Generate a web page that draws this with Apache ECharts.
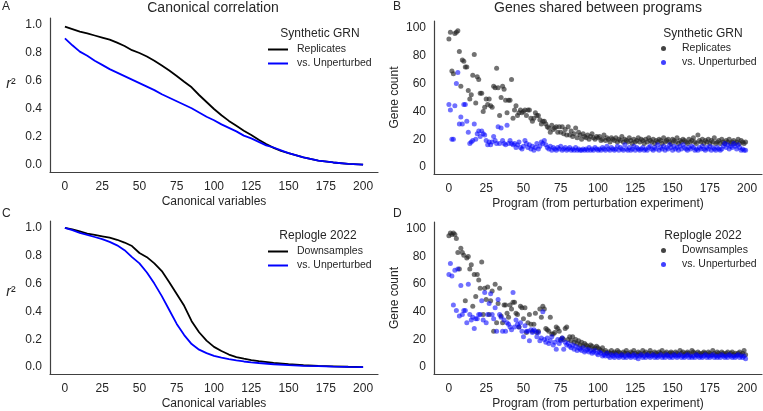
<!DOCTYPE html>
<html lang="en">
<head>
    <meta charset="UTF-8" />
    <title>Canonical correlation / Genes shared between programs</title>
    <script src="https://cdn.jsdelivr.net/npm/echarts@6/dist/echarts.min.js"></script>
    <style>
        html, body { margin: 0; padding: 0; background: #fff; }
        #main { width: 763px; height: 411px; }
    </style>
</head>
<body>
<div id="main"></div>
<script type="text/javascript">
    // canonical correlation curves (r^2 vs canonical variable index)
    var synthX = [0,5,10,15,20,25,30,35,40,45,50,55,60,65,70,75,80,85,90,95,100,105,110,115,120,125,130,135,140,145,150,160,170,180,190,200];
    var synthReplicates = [0.988,0.97,0.952,0.94,0.925,0.91,0.895,0.874,0.85,0.82,0.80,0.775,0.745,0.71,0.675,0.636,0.595,0.555,0.50,0.45,0.40,0.355,0.315,0.28,0.245,0.214,0.18,0.15,0.122,0.10,0.085,0.055,0.032,0.018,0.008,0.003];
    var synthUnperturbed = [0.905,0.855,0.81,0.78,0.745,0.715,0.685,0.66,0.635,0.61,0.585,0.56,0.535,0.505,0.48,0.455,0.43,0.405,0.375,0.345,0.32,0.29,0.265,0.24,0.21,0.19,0.165,0.14,0.125,0.105,0.085,0.055,0.032,0.018,0.008,0.003];

    var replX = [0,5,10,15,20,25,30,35,40,45,50,55,60,65,70,75,80,85,90,95,100,105,110,115,120,125,130,140,150,160,170,180,190,200];
    var replDownsamples = [1.0,0.99,0.975,0.96,0.95,0.94,0.93,0.915,0.895,0.87,0.82,0.79,0.745,0.69,0.61,0.525,0.44,0.33,0.25,0.19,0.145,0.115,0.09,0.072,0.06,0.05,0.042,0.03,0.02,0.013,0.008,0.005,0.002,0.0];
    var replUnperturbed = [1.0,0.985,0.965,0.95,0.935,0.92,0.9,0.875,0.84,0.79,0.745,0.68,0.6,0.51,0.41,0.31,0.23,0.165,0.125,0.1,0.08,0.068,0.057,0.048,0.04,0.034,0.029,0.02,0.014,0.009,0.006,0.003,0.001,0.0];

    // gene counts per program 0..199
    var synthRepCounts = [92,97,69,67,96,97,98,83,58,77, 76,72,72,55,49,52,66,81,46,65, 63,53,53,40,43,49,45,49,44,43,
        58,57,71,57,37,50,58,56,48,39, 48,48,63,35,41,44,37,39,41,39, 40,41,37,41,41,35,33,35,39,37,
        37,34,31,33,33,31,29,28,25,30, 27,28,29,25,29,25,29,24,27,23, 29,23,
        26,22,24,28,21,25,23,20,24,22,21,23,20,22,24,21,20,22,
        21,22,19,20,23,19,21,20,18,21, 20,19,21,18,20,19,22,18,20,19, 18,21,19,17,20,18,19,21,18,20,
        19,17,20,18,21,19,18,20,17,19, 18,20,19,17,21,18,19,20,18,17, 20,19,18,21,17,19,18,20,19,18,
        17,20,18,19,21,18,17,23,19,18, 20,17,19,18,20,17,19,18,21,17, 18,19,17,20,18,17,19,18,20,17,
        18,19,17,18,20,17,19,18,17,18];
    var synthUnpCounts = [45,41,20,20,44,60,68,31,36,31, 45,45,33,25,17,18,19,31,20,24, 26,22,26,24,23,19,16,18,16,18,
        22,19,17,29,17,28,19,17,16,30, 17,19,17,16,17,14,16,18,14,13, 15,19,
        17,14,16,13,15,12,14,17,13,15, 18,17,19,16,14,13,15,12,14,13, 12,14,13,15,12,13,14,12,13,14,
        12,13,12,14,12,13,12,12,13,12, 13,12,14,12,13,12,14,13,12,13, 12,14,13,12,15,13,12,14,13,12,
        13,15,12,14,13,12,16,13,12,14, 12,13,15,12,14,13,12,13,14,12, 13,12,14,15,13,12,14,13,16,12,
        14,13,15,12,14,13,16,14,12,15, 13,14,12,15,13,16,14,13,12,14, 13,15,14,12,13,12,14,13,15,13,
        12,14,13,15,12,14,13,12,14,13, 12,13,15,17,14,16,13,15,14,17, 15,13,16,14,12,13,12,12];
    var replDownCounts = [95,97,96,97,96,93,83,71,86,83, 81,48,79,80,71,74,44,67,51,67, 63,57,76,38,57,49,58,38,48,55,
        26,60,32,46,57,37,32,45,45,39, 36,45,42,47,47,39,38,29,44,43, 35,43,25,32,38,31,26,31,39,25,
        26,42,36,44,42,28,27,26,36,24, 24,25,29,28,26,20,21,20,28,29, 20,22,19,
        22,18,20,17,19,16,18,15,17,16, 15,14,16,15,13,14,15,14,
        13,12,14,11,12,10,11,10,12,10, 11,10,12,11,10,9,11,10,12,10, 9,11,10,12,10,9,11,10,9,12,
        10,11,9,10,12,10,9,11,10,9, 11,10,12,9,10,11,9,10,11,10, 9,11,10,9,12,10,11,9,10,11,
        10,9,12,11,10,9,11,10,9,10, 11,10,9,11,10,9,12,10,9,11, 10,9,11,10,9,10,11,9,10,11,
        9,10,9,10,11,9,10,12,9];
    var replUnpCounts = [67,75,66,45,70,41,71,37,59,38, 41,41,32,60,38,34,36,28,35,35, 38,38,48,34,54,32,38,46,53,38,
        35,43,26,49,38,36,26,34,26,32, 31,29,27,54,29,34,31,29,32,26, 22,30,26,26,19,27,25,27,26,22,
        25,19,21,40,
        20,18,21,17,19,22,16,18,13,20, 17,19,21,13,18,16,17,15,14,16, 13,15,12,14,13,12,14,11,12,13,
        11,12,10,11,12,10,9,11,10,8, 9,8,10,8,7,9,8,7,9,8, 7,8,9,7,8,7,9,8,7,8,
        9,7,8,6,8,9,7,8,7,9, 8,7,8,9,7,8,7,8,9,7, 8,7,9,8,7,8,7,9,8,7,
        8,9,7,8,7,8,9,7,8,7, 8,7,9,8,7,8,7,8,9,7, 8,7,8,9,7,8,7,8,7,9,
        8,7,8,7,9,8,7,8,7,8, 9,7,8,7,8,6];

    var xTicks = [0,25,50,75,100,125,150,175,200];
    var r2Ticks = [0,0.2,0.4,0.6,0.8,1.0];
    var countTicks = [0,20,40,60,80,100];

    var font = "'Liberation Sans', Arial, sans-serif";
    var ink = '#262626';
    var spine = '#404040';
    var black = '#000000';
    var blue = '#0000ff';

    function pairs(xs, ys) {
        var out = [];
        for (var i = 0; i < ys.length; i++) out.push([xs[i], ys[i]]);
        return out;
    }
    function indexed(ys) {
        var out = [];
        for (var i = 0; i < ys.length; i++) out.push([i, ys[i]]);
        return out;
    }

    function xAxisFor(grid, name) {
        return {
            type: 'value', gridIndex: grid, min: -10, max: 210,
            name: name, nameLocation: 'middle', nameGap: 24,
            nameTextStyle: { fontSize: 12, color: ink, fontFamily: font },
            axisLine: { show: true, onZero: false, lineStyle: { color: spine, width: 1.2 } },
            axisTick: { show: false },
            splitLine: { show: false },
            axisLabel: { customValues: xTicks, fontSize: 12, color: ink, fontFamily: font, margin: 9 }
        };
    }
    function yAxisFor(grid, isCount) {
        var ax = {
            type: 'value', gridIndex: grid,
            min: isCount ? -5 : -0.05, max: isCount ? 105 : 1.05,
            axisLine: { show: true, onZero: false, lineStyle: { color: spine, width: 1.2 } },
            axisTick: { show: false },
            splitLine: { show: false },
            axisLabel: {
                customValues: isCount ? countTicks : r2Ticks, fontSize: 12, color: ink, fontFamily: font, margin: 8,
                formatter: function (v) { return isCount ? String(Math.round(v)) : v.toFixed(1); }
            }
        };
        if (isCount) {
            ax.name = 'Gene count';
            ax.nameLocation = 'middle';
            ax.nameRotate = 90;
            ax.nameGap = 33;
            ax.nameTextStyle = { fontSize: 12, color: ink, fontFamily: font };
        }
        return ax;
    }
    function lineLegend(top, names) {
        return {
            left: 268, top: top, orient: 'vertical', itemGap: 3, padding: 0,
            itemWidth: 20, itemHeight: 2,
            textStyle: { fontSize: 10.5, color: ink, fontFamily: font, padding: [0, 0, 0, 4] },
            data: [
                { name: names[0], icon: 'rect', itemStyle: { color: black } },
                { name: names[1], icon: 'rect', itemStyle: { color: blue } }
            ]
        };
    }
    function dotLegend(top, names) {
        return {
            left: 661, top: top, orient: 'vertical', itemGap: 3, padding: 0,
            itemWidth: 5, itemHeight: 5,
            textStyle: { fontSize: 10.5, color: ink, fontFamily: font, padding: [0, 0, 0, 11] },
            data: [
                { name: names[0], icon: 'circle', itemStyle: { color: 'rgba(34,34,34,0.85)' } },
                { name: names[1], icon: 'circle', itemStyle: { color: 'rgba(0,0,255,0.75)' } }
            ]
        };
    }
    function txt(x, y, s, size, align) {
        return {
            type: 'text', x: x, y: y,
            style: { text: s, fontSize: size, fill: ink, fontFamily: font, textAlign: align || 'center', textVerticalAlign: 'middle' }
        };
    }
    function r2Label(x, y) {
        return {
            type: 'text', x: x, y: y,
            style: {
                text: '{i|r}{n|²}', textAlign: 'center', textVerticalAlign: 'middle', fill: ink,
                rich: {
                    i: { fontSize: 14, fontStyle: 'italic', fontFamily: font, fill: ink },
                    n: { fontSize: 14, fontFamily: font, fill: ink }
                }
            }
        };
    }

    var myChart = echarts.init(document.getElementById('main'));
    var option = {
        backgroundColor: '#ffffff',
        animation: false,
        textStyle: { fontFamily: font },
        grid: [
            { left: 50, top: 18, width: 328, height: 154 },
            { left: 434, top: 21, width: 328, height: 153 },
            { left: 50, top: 221, width: 328, height: 154 },
            { left: 434, top: 222, width: 328, height: 153 }
        ],
        xAxis: [
            xAxisFor(0, 'Canonical variables'),
            xAxisFor(1, 'Program (from perturbation experiment)'),
            xAxisFor(2, 'Canonical variables'),
            xAxisFor(3, 'Program (from perturbation experiment)')
        ],
        yAxis: [yAxisFor(0, false), yAxisFor(1, true), yAxisFor(2, false), yAxisFor(3, true)],
        legend: [
            lineLegend(44, ['Replicates', 'vs. Unperturbed']),
            dotLegend(43, ['Replicates', 'vs. Unperturbed']),
            lineLegend(246, ['Downsamples', 'vs. Unperturbed']),
            dotLegend(245, ['Downsamples', 'vs. Unperturbed'])
        ],
        graphic: [
            txt(2, 7, 'A', 12, 'left'),
            txt(393, 7, 'B', 12, 'left'),
            txt(2, 214, 'C', 12, 'left'),
            txt(393, 214, 'D', 12, 'left'),
            txt(213, 8, 'Canonical correlation', 14),
            txt(598, 8, 'Genes shared between programs', 14),
            txt(320, 34, 'Synthetic GRN', 12),
            txt(703, 34, 'Synthetic GRN', 12),
            txt(318, 236, 'Replogle 2022', 12),
            txt(703, 236, 'Replogle 2022', 12),
            r2Label(11, 84),
            r2Label(11, 292)
        ],
        series: [
            { name: 'Replicates', type: 'line', xAxisIndex: 0, yAxisIndex: 0, showSymbol: false, symbol: 'none',
              lineStyle: { color: black, width: 1.8 }, itemStyle: { color: black }, data: pairs(synthX, synthReplicates) },
            { name: 'vs. Unperturbed', type: 'line', xAxisIndex: 0, yAxisIndex: 0, showSymbol: false, symbol: 'none',
              lineStyle: { color: blue, width: 1.8 }, itemStyle: { color: blue }, data: pairs(synthX, synthUnperturbed) },
            { name: 'Replicates', type: 'scatter', xAxisIndex: 1, yAxisIndex: 1, symbolSize: 5,
              itemStyle: { color: 'rgba(34,34,34,0.8)' }, data: indexed(synthRepCounts) },
            { name: 'vs. Unperturbed', type: 'scatter', xAxisIndex: 1, yAxisIndex: 1, symbolSize: 5,
              itemStyle: { color: 'rgba(0,0,255,0.7)' }, data: indexed(synthUnpCounts) },
            { name: 'Downsamples', type: 'line', xAxisIndex: 2, yAxisIndex: 2, showSymbol: false, symbol: 'none',
              lineStyle: { color: black, width: 1.8 }, itemStyle: { color: black }, data: pairs(replX, replDownsamples) },
            { name: 'vs. Unperturbed', type: 'line', xAxisIndex: 2, yAxisIndex: 2, showSymbol: false, symbol: 'none',
              lineStyle: { color: blue, width: 1.8 }, itemStyle: { color: blue }, data: pairs(replX, replUnperturbed) },
            { name: 'Downsamples', type: 'scatter', xAxisIndex: 3, yAxisIndex: 3, symbolSize: 5,
              itemStyle: { color: 'rgba(34,34,34,0.8)' }, data: indexed(replDownCounts) },
            { name: 'vs. Unperturbed', type: 'scatter', xAxisIndex: 3, yAxisIndex: 3, symbolSize: 5,
              itemStyle: { color: 'rgba(0,0,255,0.7)' }, data: indexed(replUnpCounts) }
        ]
    };
    myChart.setOption(option);
</script>
</body>
</html>
